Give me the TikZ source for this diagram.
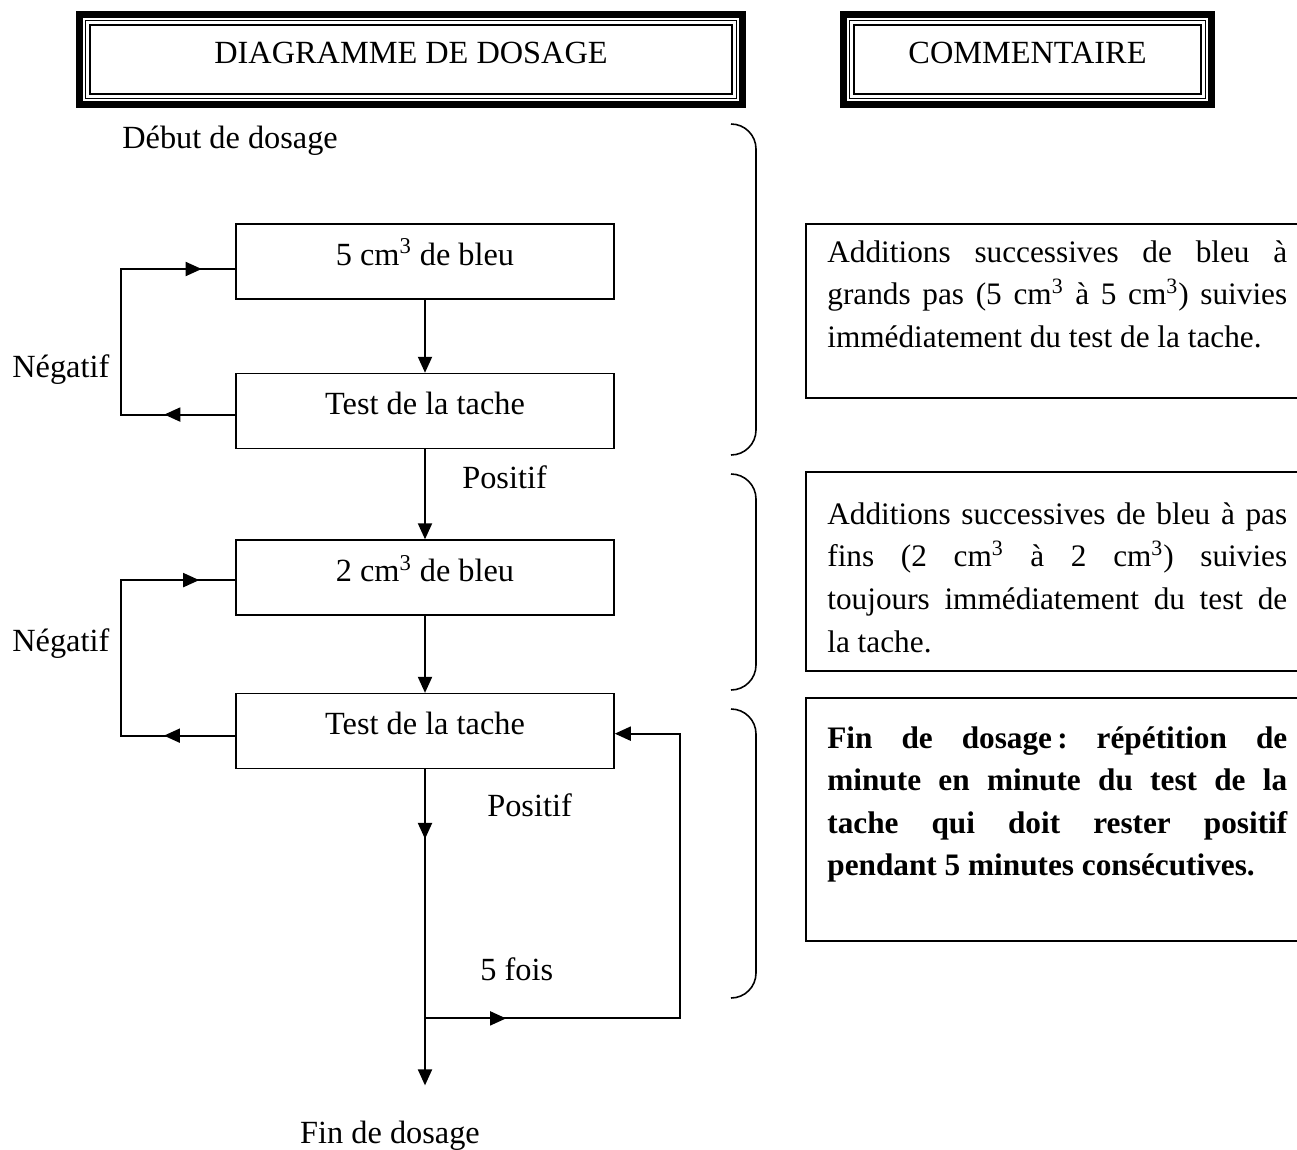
\documentclass[tikz,border=0pt]{standalone}
\usepackage{fontspec}
\setmainfont{Liberation Serif}
\usetikzlibrary{positioning, arrows.meta, calc, decorations.markings}
\tolerance=9999
\hyphenpenalty=10000
\frenchspacing

\begin{document}
\begin{tikzpicture}[
    x=0.02cm, y=-0.02cm,
    every node/.style={font=\fontsize{18.4pt}{24.4pt}\selectfont},
    titlebox/.style={draw, line width=0.03cm, inner xsep=0pt, inner ysep=0pt, text height=0.785cm, text depth=0.605cm},
    flow/.style={draw, line width=0.9pt, minimum width=7.56cm, inner xsep=0pt, inner ysep=0pt, text height=0.82cm, text depth=0.68cm},
    combox/.style={draw, line width=0.9pt, anchor=north west, minimum width=10.4cm, inner sep=0pt},
    comtext/.style={anchor=base west, text width=9.2cm, align=justify, inner sep=0pt, font=\fontsize{17.8pt}{24.4pt}\selectfont},
    lbl/.style={anchor=base west, inner sep=0pt},
    conn/.style={line width=1.1pt},
    arr/.style={-{Triangle[length=0.32cm, width=0.28cm]}},
    midarr/.style={postaction={decorate, decoration={markings, mark=at position #1 with {\arrow{Triangle[length=0.32cm, width=0.28cm]}}}}},
    brace/.style={line width=0.9pt, rounded corners=0.5cm}
]
\useasboundingbox (0,0) rectangle (1297,1149);

% headings
\node[titlebox, minimum width=12.85cm] (titlediag) at (411,59.5) {DIAGRAMME DE DOSAGE};
\node[titlebox, minimum width=6.95cm] (titlecom) at (1027.5,59.5) {COMMENTAIRE};
\foreach \t in {titlediag, titlecom} {
  \draw[line width=0.02cm] ($(\t.north west)+(-3.25,-3.25)$) rectangle ($(\t.south east)+(3.25,3.25)$);
  \draw[line width=0.14cm] ($(\t.north west)+(-9.25,-9.25)$) rectangle ($(\t.south east)+(9.25,9.25)$);
}

% flow chart
\node[lbl] (start) at (122,148) {Début de dosage};
\node[flow] (add5) at (425,261.5) {5 cm\textsuperscript{3} de bleu};
\node[flow, below=1.46cm of add5] (test1) {Test de la tache};
\node[flow, below=1.8cm of test1] (add2) {2 cm\textsuperscript{3} de bleu};
\node[flow, below=1.54cm of add2] (test2) {Test de la tache};
\coordinate[below=6.32cm of test2.south] (endpt);
\coordinate (split) at ($(test2.south)!0.788!(endpt)$);

\draw[conn, arr] (add5) -- (test1);
\draw[conn, arr] (test1) -- (add2);
\draw[conn, arr] (add2) -- (test2);
\draw[conn, arr, midarr=0.22] (test2) -- (endpt);

% negative loops
\draw[conn, midarr=0.19, midarr=0.91] ($(test1.west)+(0,3.5)$) -- ++(-114,0) -- ($(add5.west)+(-114,7.5)$) -- ($(add5.west)+(0,7.5)$);
\draw[conn, midarr=0.186, midarr=0.906] ($(test2.west)+(0,4.5)$) -- ++(-114,0) -- ($(add2.west)+(-114,2.5)$) -- ($(add2.west)+(0,2.5)$);
% repeat loop
\draw[conn, arr, midarr=0.134] (split) -- ++(255,0) |- ($(test2.east)+(0,2.5)$);

\node[lbl] (neg1) at (12,377) {Négatif};
\node[lbl] (neg2) at (12,651) {Négatif};
\node[lbl] (pos1) at (462,488) {Positif};
\node[lbl] (pos2) at (487,816) {Positif};
\node[lbl] (fois) at (480,980) {5 fois};
\node[lbl, anchor=base] (fin) at (390,1143) {Fin de dosage};

% braces
\draw[brace] (731,124) -- (756,124) -- (756,455) -- (731,455);
\draw[brace] (731,474) -- (756,474) -- (756,690) -- (731,690);
\draw[brace] (731,709) -- (756,709) -- (756,998) -- (731,998);

% comments
\node[combox, minimum height=3.48cm] (com1) at (805,223) {};
\node[comtext] (comtxt1) at ($(com1.north west)+(22,39)$) {Additions successives de bleu à\linebreak grands pas (5 cm\textsuperscript{3} à 5 cm\textsuperscript{3}) suivies\linebreak immédiatement du test de la tache.};
\node[combox, minimum height=3.98cm] (com2) at (805,471) {};
\node[comtext] (comtxt2) at ($(com2.north west)+(22,53)$) {Additions successives de bleu à pas\linebreak fins (2 cm\textsuperscript{3} à 2 cm\textsuperscript{3}) suivies\linebreak toujours immédiatement du test de\linebreak la tache.};
\node[combox, minimum height=4.86cm] (com3) at (805,697) {};
\node[comtext, font=\fontsize{17.8pt}{24.2pt}\selectfont\bfseries] (comtxt3) at ($(com3.north west)+(22,51)$) {Fin de dosage\,: répétition de\linebreak minute en minute du test de la\linebreak tache qui doit rester positif\linebreak pendant 5 minutes consécutives.};

\end{tikzpicture}
\end{document}
